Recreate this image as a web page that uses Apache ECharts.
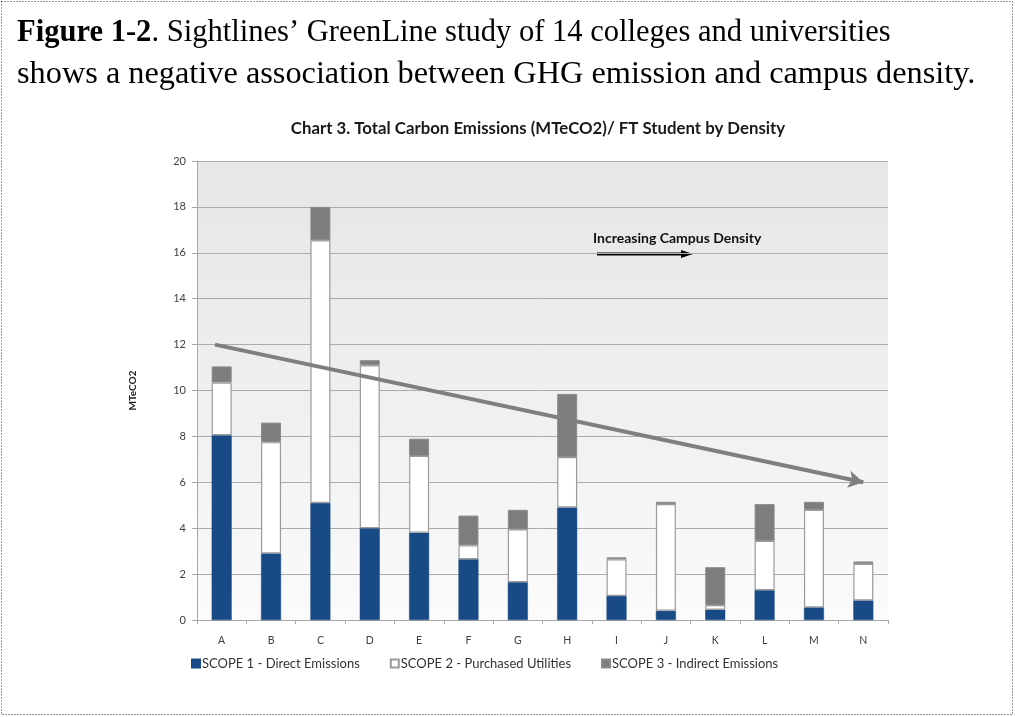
<!DOCTYPE html>
<html>
<head>
<meta charset="utf-8">
<script src="https://cdn.jsdelivr.net/npm/echarts@6/dist/echarts.min.js"></script>
<style>
  html, body { margin: 0; padding: 0; background: #ffffff; }
  #chart { width: 1015px; height: 717px; }
</style>
</head>
<body>
<div id="chart"></div>
<script>
// Campuses, ordered by increasing density
const categories = ['A', 'B', 'C', 'D', 'E', 'F', 'G', 'H', 'I', 'J', 'K', 'L', 'M', 'N'];

// MTeCO2 per FT student, by emission scope
const scope1 = [8.05, 2.9, 5.1, 4.0, 3.8, 2.65, 1.65, 4.9, 1.05, 0.4, 0.45, 1.3, 0.55, 0.85];
const scope2 = [2.3, 4.85, 11.45, 7.1, 3.35, 0.6, 2.3, 2.2, 1.6, 4.65, 0.2, 2.15, 4.25, 1.6];
const scope3 = [0.7, 0.85, 1.45, 0.22, 0.75, 1.3, 0.85, 2.75, 0.08, 0.1, 1.65, 1.6, 0.35, 0.1];

const seriesNames = ['SCOPE 1 - Direct Emissions', 'SCOPE 2 - Purchased Utilities', 'SCOPE 3 - Indirect Emissions'];

// Trend arrow: from first to last campus
const trendStart = 12;
const trendEnd = 6;

// Y axis ticks
const yMin = 0, yMax = 20, yStep = 2;

const sans = 'Lato, "Open Sans", sans-serif';
const serif = '"Liberation Serif", "DejaVu Serif", serif';

const chart = echarts.init(document.getElementById('chart'), null, { renderer: 'canvas' });

const barBorder = '#9a9a9a';

const option = {
  backgroundColor: '#ffffff',
  animation: false,
  title: {
    text: 'Chart 3. Total Carbon Emissions (MTeCO2)/ FT Student by Density',
    left: 533,
    textAlign: 'center',
    top: 115,
    textStyle: { fontFamily: sans, fontSize: 16.8, fontWeight: 'bold', color: '#1a1a1a' }
  },
  grid: {
    left: 197, right: 127, top: 161, bottom: 97,
    show: true,
    borderWidth: 0,
    backgroundColor: new echarts.graphic.LinearGradient(0, 0, 0, 1, [
      { offset: 0, color: '#e4e6e8' },
      { offset: 0.55, color: '#eff0f1' },
      { offset: 1, color: '#fbfbfb' }
    ])
  },
  legend: {
    left: 186,
    top: 652,
    itemWidth: 8,
    itemHeight: 8,
    itemGap: 30,
    icon: 'rect',
    textStyle: { fontFamily: sans, fontSize: 13, color: '#333333', padding: [0, 0, 0, -3] },
    data: seriesNames
  },
  xAxis: {
    type: 'category',
    data: categories,
    axisLine: { lineStyle: { color: '#a6a6a6', width: 1 } },
    axisTick: { show: true, alignWithLabel: false, length: 4, lineStyle: { color: '#a6a6a6' } },
    axisLabel: { fontFamily: sans, fontSize: 10.5, color: '#404040', margin: 15 }
  },
  yAxis: {
    type: 'value',
    min: yMin, max: yMax, interval: yStep,
    name: 'MTeCO2',
    nameLocation: 'middle',
    nameRotate: 90,
    nameGap: 59,
    nameTextStyle: { fontFamily: sans, fontSize: 10, fontWeight: 'bold', color: '#222222' },
    axisLine: { show: true, lineStyle: { color: '#a6a6a6', width: 1 } },
    axisTick: { show: true, length: 5, lineStyle: { color: '#a6a6a6' } },
    axisLabel: { fontFamily: sans, fontSize: 11, color: '#404040', margin: 11 },
    splitLine: { show: true, lineStyle: { color: '#ababab', width: 1 } }
  },
  series: [
    {
      name: seriesNames[0],
      type: 'bar',
      stack: 'total',
      barWidth: 20,
      data: scope1,
      itemStyle: { color: '#184a85', borderColor: '#184a85', borderWidth: 0.5 }
    },
    {
      name: seriesNames[1],
      type: 'bar',
      stack: 'total',
      barWidth: 20,
      data: scope2,
      itemStyle: { color: '#ffffff', borderColor: barBorder, borderWidth: 1.2 }
    },
    {
      name: seriesNames[2],
      type: 'bar',
      stack: 'total',
      barWidth: 20,
      data: scope3,
      itemStyle: { color: '#7d7d7d', borderColor: '#8a8a8a', borderWidth: 1 },
      markLine: {
        silent: true,
        symbol: ['none', 'arrow'],
        symbolSize: [13, 15],
        label: { show: false },
        lineStyle: { color: '#7f7f7f', width: 4, type: 'solid' },
        data: [[
          { coord: [categories[0], trendStart], x: 215 },
          { coord: [categories[categories.length - 1], trendEnd] }
        ]]
      }
    }
  ],
  graphic: [
    // dotted frame around the figure
    {
      type: 'rect',
      shape: { x: 1.5, y: 1.5, width: 1011, height: 713 },
      style: { fill: null, stroke: '#333333', lineWidth: 1, lineDash: [1, 2] },
      silent: true
    },
    // figure caption
    {
      type: 'text',
      x: 17,
      y: 17,
      scaleX: 0.955,
      style: {
        text: '{b|Figure 1-2}. Sightlines’ GreenLine study of 14 colleges and universities',
        font: '32px ' + serif,
        fill: '#000000',
        rich: {
          b: { font: 'bold 32px ' + serif, fill: '#000000' }
        }
      }
    },
    {
      type: 'text',
      x: 17,
      y: 59,
      scaleX: 1.01,
      style: {
        text: 'shows a negative association between GHG emission and campus density.',
        font: '32px ' + serif,
        fill: '#000000'
      }
    },
    // density annotation
    {
      type: 'text',
      left: 593,
      top: 231,
      style: {
        text: 'Increasing Campus Density',
        font: 'bold 14px ' + sans,
        fill: '#111111'
      }
    },
    {
      type: 'line',
      shape: { x1: 597, y1: 254, x2: 683, y2: 254 },
      style: { stroke: '#000000', lineWidth: 3 }
    },
    {
      type: 'polygon',
      shape: { points: [[681, 250], [693, 254], [681, 258]] },
      style: { fill: '#000000' }
    }
  ]
};

chart.setOption(option);
</script>
</body>
</html>
